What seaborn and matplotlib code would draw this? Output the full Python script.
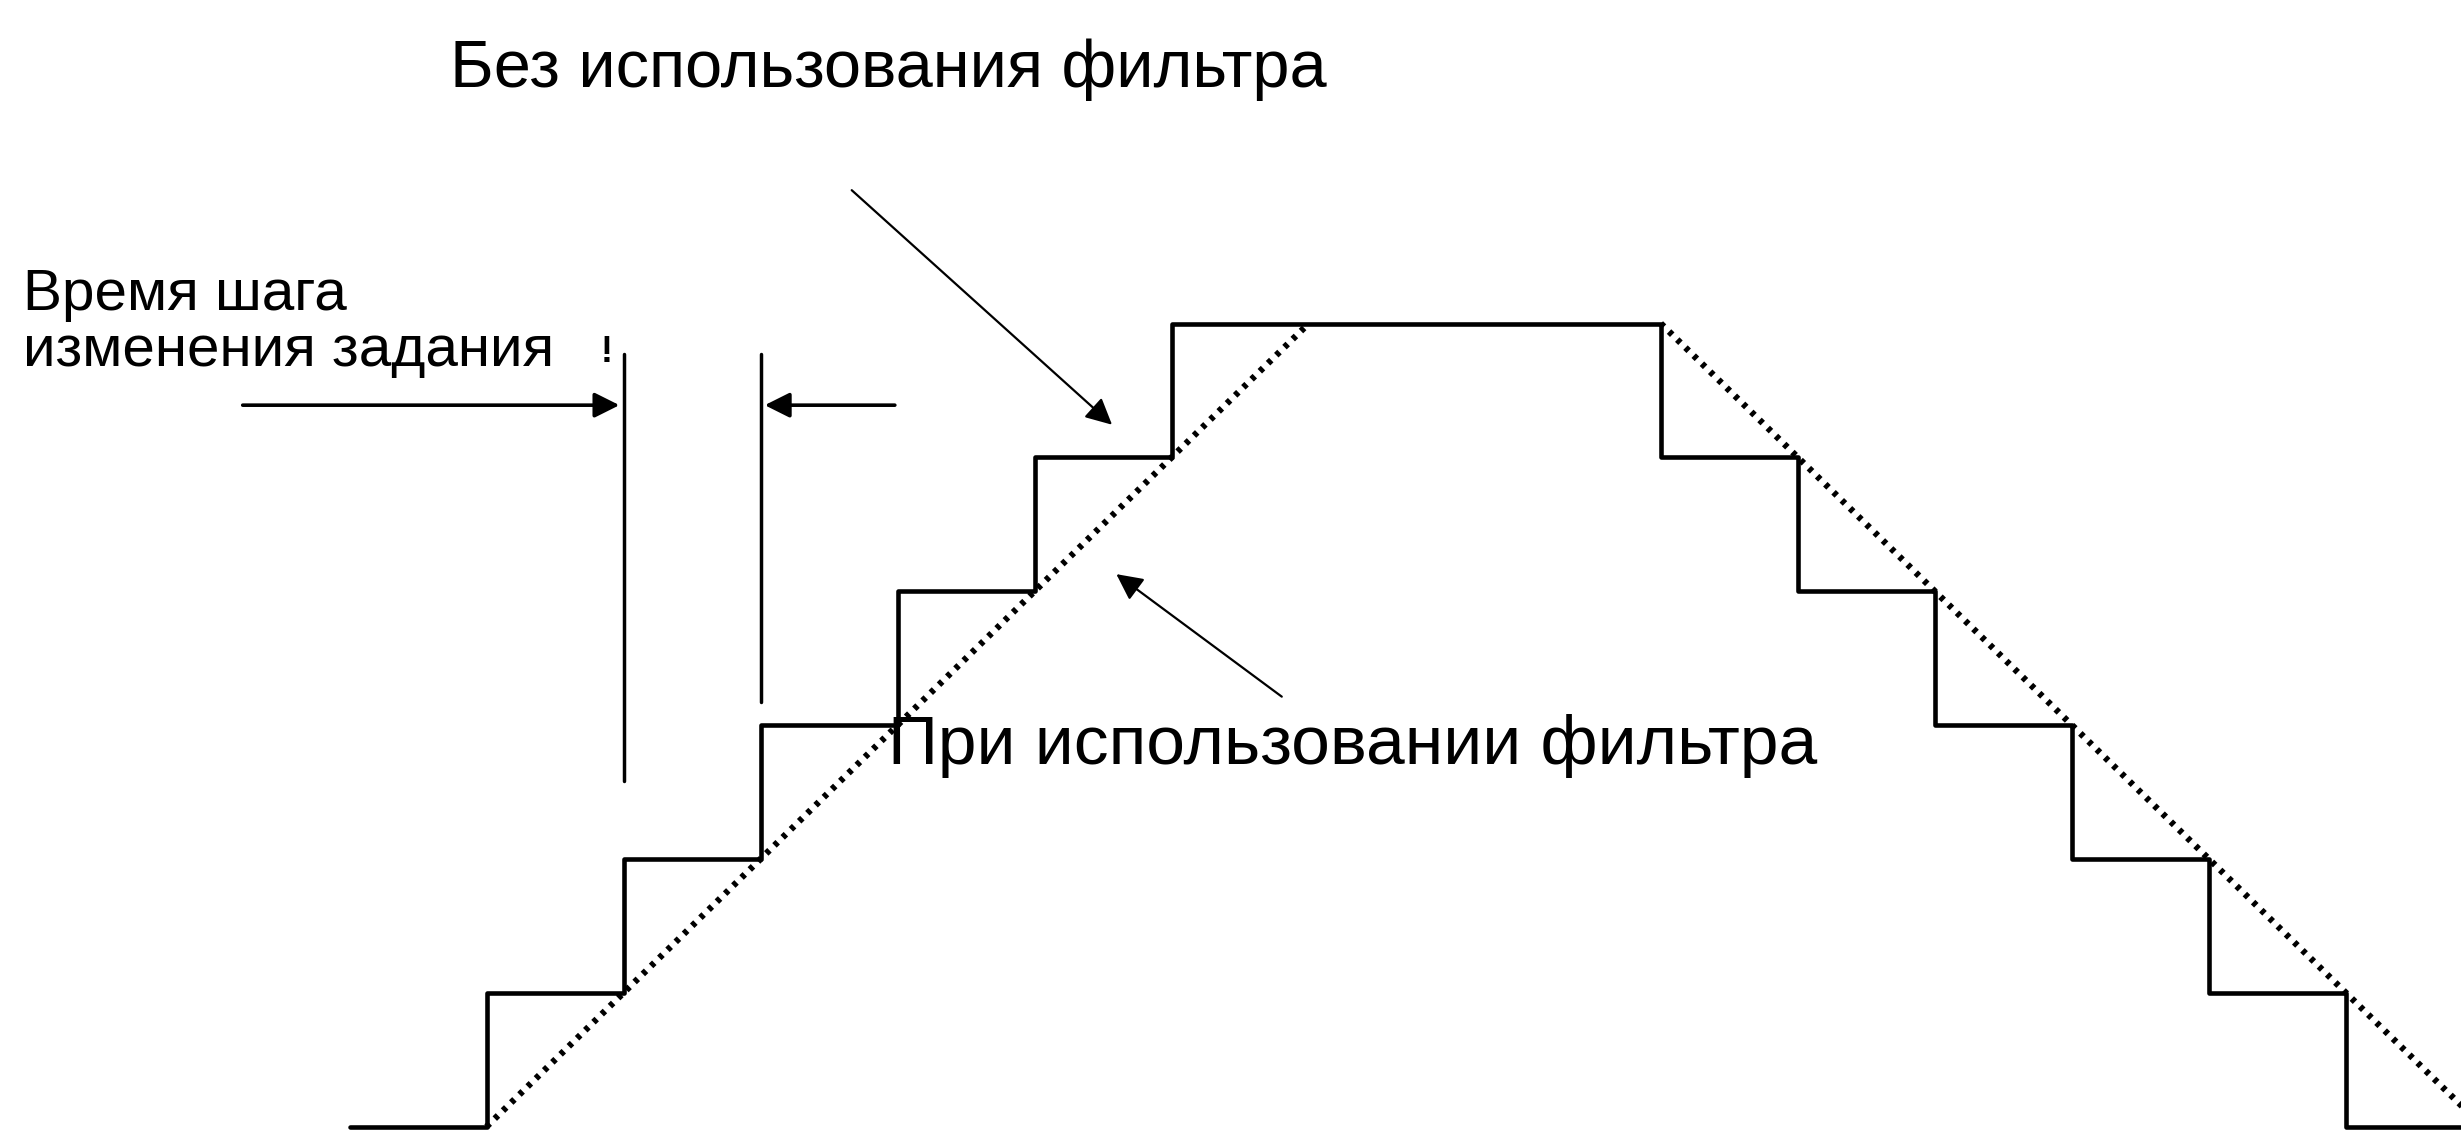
import numpy as np
import pandas as pd
import matplotlib.pyplot as plt
import seaborn as sns

# Setpoint without filter (step function), time in step units, level in step units
step_t = [-1, 0, 1, 2, 3, 4, 5, 8.57, 9.57, 10.57, 11.57, 12.57, 13.57, 14.6]
step_level = [0, 1, 2, 3, 4, 5, 6, 5, 4, 3, 2, 1, 0, 0]

# Setpoint with filter (ramp), rising and falling parts
ramp_up_t = [0, 6]
ramp_up_level = [0, 6]
ramp_down_t = [8.57, 14.57]
ramp_down_level = [6, 0]

# Step-time markers
marker_t = [1, 2]
marker_top = [5.77, 5.77]
marker_bottom = [2.58, 3.17]

title_top = 'Без использования фильтра'
label_filter = 'При использовании фильтра'
label_step_1 = 'Время шага'
label_step_2 = 'изменения задания'

sns.set_style('white')
plt.rcParams['font.family'] = ['Liberation Sans', 'DejaVu Sans']

fig = plt.figure(figsize=(24.61, 11.36), dpi=100)
ax = fig.add_axes([0, 0, 1, 1])

steps = pd.DataFrame({'t': step_t, 'level': step_level})
up = pd.DataFrame({'t': ramp_up_t, 'level': ramp_up_level})
down = pd.DataFrame({'t': ramp_down_t, 'level': ramp_down_level})

for ramp in [up, down]:
    sns.lineplot(data=ramp, x='t', y='level', ax=ax, color='black', lw=4.6,
                 linestyle=(0, (0.7, 1.1)), estimator=None, sort=False, zorder=2)

sns.lineplot(data=steps, x='t', y='level', ax=ax, color='black', lw=3.3,
             drawstyle='steps-post', estimator=None, sort=False, zorder=3)

# vertical lines marking one step
for t, top, bottom in zip(marker_t, marker_top, marker_bottom):
    ax.plot([t, t], [bottom, top], color='black', lw=2.5)

# dimension arrows
arrow_y = 5.39
ax.annotate('', xy=(0.99, arrow_y), xytext=(-1.8, arrow_y),
            arrowprops=dict(arrowstyle='-|>', color='black', lw=2.6, mutation_scale=38))
ax.annotate('', xy=(2.01, arrow_y), xytext=(3.0, arrow_y),
            arrowprops=dict(arrowstyle='-|>', color='black', lw=2.6, mutation_scale=38))

# pointer arrows to the curves
ax.annotate('', xy=(4.58, 5.23), xytext=(2.65, 7.01),
            arrowprops=dict(arrowstyle='-|>', color='black', lw=1.6, mutation_scale=40))
ax.annotate('', xy=(4.58, 4.14), xytext=(5.82, 3.20),
            arrowprops=dict(arrowstyle='-|>', color='black', lw=1.6, mutation_scale=40))

ax.text(-0.27, 7.77, title_top, fontsize=48, va='baseline', ha='left', color='black')
ax.text(2.93, 2.71, label_filter, fontsize=50, va='baseline', ha='left', color='black')
ax.text(-3.38, 6.10, label_step_1, fontsize=42, va='baseline', ha='left', color='black')
ax.text(-3.38, 5.68, label_step_2, fontsize=42, va='baseline', ha='left', color='black')
ax.text(0.83, 5.71, '!', fontsize=26, va='baseline', ha='left', color='black', weight='bold')

ax.set_xlim(-3.551, 14.41)
ax.set_ylim(-0.07, 8.417)
ax.axis('off')

plt.savefig('out.png', dpi=100)
